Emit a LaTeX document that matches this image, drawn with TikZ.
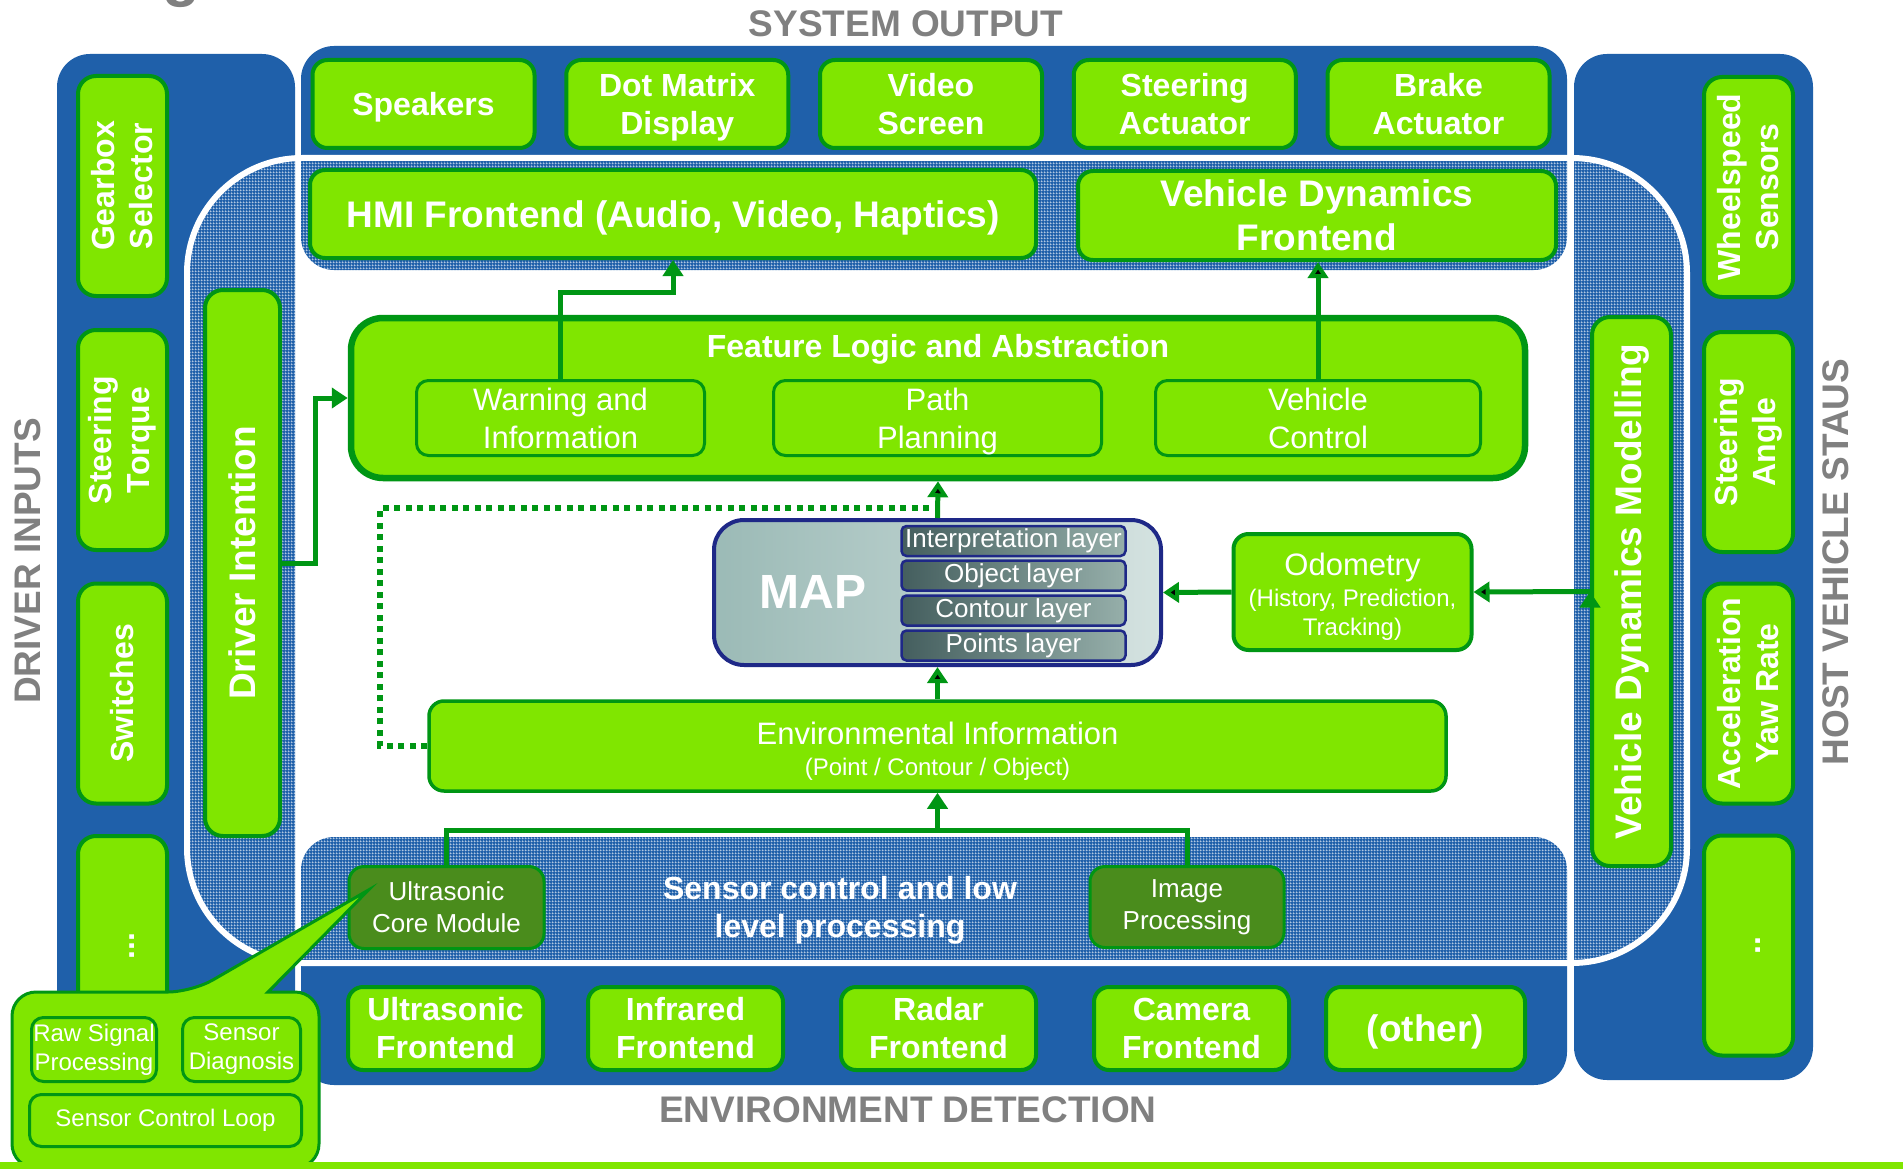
\documentclass[tikz,border=0pt]{standalone}
\usepackage{fontspec}
\setmainfont{Liberation Sans}
\usetikzlibrary{matrix,arrows.meta,patterns}

\definecolor{panelblue}{RGB}{31,96,170}
\definecolor{boxlime}{RGB}{128,230,0}
\definecolor{leafgreen}{RGB}{0,150,20}
\definecolor{mossgreen}{RGB}{74,140,28}
\definecolor{capgray}{RGB}{128,128,128}
\definecolor{mapnavy}{RGB}{30,40,135}
\definecolor{mapdark}{RGB}{155,186,182}
\definecolor{maplight}{RGB}{212,226,224}
\definecolor{layerdark}{RGB}{68,94,94}
\definecolor{layerlight}{RGB}{150,175,170}

% fine white mesh laid over the blue frame
\pgfdeclarepatternformonly{mesh}{\pgfqpoint{0pt}{0pt}}{\pgfqpoint{3pt}{3pt}}{\pgfqpoint{3pt}{3pt}}{
  \pgfpathrectangle{\pgfqpoint{0pt}{0pt}}{\pgfqpoint{3pt}{0.45pt}}
  \pgfpathrectangle{\pgfqpoint{0pt}{0pt}}{\pgfqpoint{0.45pt}{3pt}}
  \pgfusepath{fill}
}

\tikzset{
  panel/.style={fill=panelblue, rounded corners=33pt},
  blk/.style={draw=leafgreen, fill=boxlime, line width=4pt, rounded corners=15pt,
    text=white, align=center, inner sep=0pt},
  sub/.style={blk, line width=3pt, rounded corners=12pt},
  core/.style={blk, fill=mossgreen, line width=3pt, font=\fontsize{26}{32}\selectfont},
  layer/.style={draw=mapnavy, line width=2.5pt, rounded corners=5pt, left color=layerdark,
    right color=layerlight, text=white, inner sep=0pt, minimum width=224pt,
    minimum height=30pt, font=\fontsize{26}{26}\selectfont},
  bigtxt/.style={font=\bfseries\fontsize{37}{44}\selectfont},
  midtxt/.style={font=\bfseries\fontsize{32}{38}\selectfont},
  plaintxt/.style={font=\fontsize{31}{38}\selectfont},
  smalltxt/.style={font=\fontsize{24}{29}\selectfont},
  outbox/.style={blk, midtxt, text depth=0pt, minimum width=222pt, minimum height=88pt},
  sidebox/.style={blk, midtxt, rotate=90, rounded corners=18pt, minimum width=220pt, minimum height=89pt},
  dots/.style={text height=23pt, text depth=0pt},
  inbox/.style={blk, midtxt, minimum width=195pt, minimum height=83pt},
  heading/.style={text=capgray, font=\bfseries\fontsize{37}{37}\selectfont, inner sep=0pt},
  flow/.style={draw=leafgreen, line width=5pt, -{Triangle[length=16pt,width=20pt]}},
  link/.style={draw=leafgreen, line width=5pt},
  dotlink/.style={draw=leafgreen, line width=6pt, dash pattern=on 6pt off 5.5pt},
  callout/.style={draw=leafgreen, fill=boxlime, line width=3pt},
}

\begin{document}
\begin{tikzpicture}[x=1pt,y=-1pt]
\useasboundingbox (0,0) rectangle (1903,1169);
\fill[white] (0,0) rectangle (1903,1169);

% blue frame: inputs, outputs, host status, detection
\fill[panel] (57,54) rectangle (295,1080);
\fill[panel] (301,46) rectangle (1567,270);
\fill[panel] (1574,54) rectangle (1813,1080);
\fill[panel] (301,837) rectangle (1567,1085);

% meshed core area
\path[rounded corners=115pt, pattern=mesh, pattern color=white] (187,158) rectangle (1687,963);
\draw[white, line width=6pt, rounded corners=115pt] (187,158) rectangle (1687,963);

\node[heading, anchor=base, font=\bfseries\fontsize{62}{62}\selectfont] (tail) at (181,-5) {g};
\node[heading] (sysout) at (906,24) {SYSTEM OUTPUT};
\node[heading] (envdet) at (908,1110) {ENVIRONMENT DETECTION};
\node[heading, rotate=90] (drvin) at (27.5,561) {DRIVER INPUTS};
\node[heading, rotate=90] (hoststat) at (1836,562) {HOST VEHICLE STAUS};

\matrix (out) [column sep=27.75pt, inner sep=0pt] at (931,104) {
  \node[outbox] (speakers) {Speakers}; &
  \node[outbox] (dotmatrix) {Dot Matrix\\Display}; &
  \node[outbox] (video) {Video\\Screen}; &
  \node[outbox] (steeract) {Steering\\Actuator}; &
  \node[outbox] (brakeact) {Brake\\Actuator}; \\
};

\node[sidebox] (gearbox) at (122.5,186) {Gearbox\\Selector};
\node[sidebox] (torque) at (122.5,440) {Steering\\Torque};
\node[sidebox] (switches) at (122.5,693.5) {Switches};
\node[sidebox, dots] (moreinp) at (122.5,946) {...};

\node[sidebox] (wheelspd) at (1748.5,187) {Wheelspeed\\Sensors};
\node[sidebox] (steerang) at (1748.5,442) {Steering\\Angle};
\node[sidebox] (yawrate) at (1748.5,693.5) {Acceleration\\Yaw Rate};
\node[sidebox, dots] (morehost) at (1748.5,945.5) {..};

\node[inbox] (usfront) at (445.5,1028.5) {Ultrasonic\\Frontend};
\node[inbox] (irfront) at (685.5,1028.5) {Infrared\\Frontend};
\node[inbox] (radfront) at (938.5,1028.5) {Radar\\Frontend};
\node[inbox] (camfront) at (1191.5,1028.5) {Camera\\Frontend};
\node[inbox, minimum width=199pt, bigtxt, text depth=0pt] (other) at (1425.5,1028.5) {(other)};

\node[blk, bigtxt, text depth=0pt, minimum width=726pt, minimum height=88pt] (hmi) at (673,214) {HMI Frontend (Audio, Video, Haptics)};
\node[blk, bigtxt, minimum width=478pt, minimum height=89pt] (vdf) at (1317,215.5) {Vehicle Dynamics\\Frontend};
\node[blk, bigtxt, rotate=90, rounded corners=18pt, minimum width=546pt, minimum height=75pt] (drv) at (242.5,563) {Driver Intention};
\node[blk, bigtxt, rotate=90, rounded corners=18pt, minimum width=549pt, minimum height=79pt] (vdm) at (1631.5,591.5) {Vehicle Dynamics Modelling};

\node[blk, line width=6.5pt, rounded corners=32pt, minimum width=1174pt, minimum height=160pt] (feat) at (938,398) {};
\node[midtxt, text=white, anchor=base, inner sep=0pt] (feattitle) at (938,357) {Feature Logic and Abstraction};
\node[sub, plaintxt, minimum width=288pt, minimum height=75pt] (warn) at (560.5,418) {Warning and\\Information};
\node[sub, plaintxt, text depth=0pt, minimum width=328pt, minimum height=75pt] (path) at (937.5,418) {Path\\Planning};
\node[sub, plaintxt, minimum width=325pt, minimum height=75pt] (vctl) at (1318,418) {Vehicle\\Control};

\node[draw=mapnavy, line width=4pt, rounded corners=30pt, left color=mapdark, right color=maplight,
  minimum width=447pt, minimum height=145pt] (map) at (937.5,592.5) {};
\node[text=white, font=\bfseries\fontsize{48}{48}\selectfont] (maplabel) at (813,592) {MAP};
\node[layer] (interp) at (1013.5,541) {Interpretation layer};
\node[layer] (objlay) at (1013.5,575.5) {Object layer};
\node[layer] (contlay) at (1013.5,610.5) {Contour layer};
\node[layer] (ptslay) at (1013.5,645.5) {Points layer};

\node[blk, smalltxt, text height=86pt, text depth=0pt, minimum width=238pt, minimum height=116pt] (odo) at (1352.5,592)
  {{\fontsize{31}{31}\selectfont Odometry}\\[2pt](History, Prediction,\\Tracking)};
\node[blk, smalltxt, text height=58pt, text depth=0pt, line width=3.5pt, minimum width=1017pt, minimum height=90pt] (env) at (937.5,746)
  {{\fontsize{31}{31}\selectfont Environmental Information}\\[2pt](Point / Contour / Object)};

\node[core, minimum width=195pt, minimum height=82pt] (ucore) at (446.5,907.5) {Ultrasonic\\Core Module};
\node[core, minimum width=194pt, minimum height=81pt] (imgproc) at (1187,907) {Image\\Processing};
\node[midtxt, text=white, align=center, text depth=0pt] (sensortxt) at (840,907) {Sensor control and low\\level processing};

\draw[flow] (warn.north) -- ++(0,-87) -| (hmi.south);
\draw[flow] (drv.south) -- ++(33,0) |- (feat.west);
\path[flow]
  (vctl.north) edge (vctl.north |- vdf.south)
  (map.north) edge (feat.south)
  (env.north) edge (map.south)
  (odo.west) edge (map.east)
  (vdm.north) edge (odo.east);
\draw[link] (ucore.north) -- ++(0,-35) coordinate (join) -| (imgproc.north);
\draw[flow] (join -| env.south) -- (env.south);
\coordinate (tap) at ([yshift=10pt]map.north);
\draw[dotlink] (env.west) -- ++(-47,0) |- (tap);

% sensor module detail
\coordinate (calltip) at ([xshift=-78pt,yshift=17.5pt]ucore.center);
\draw[callout] (12,1080) [rounded corners=24pt] -- (12,992) -- (192,992) [sharp corners] -- (calltip)
  -- (268,992) [rounded corners=24pt] -- (319,992) -- (319,1168) -- (12,1168) -- cycle;
\node[sub, smalltxt, minimum width=125pt, minimum height=64pt] (rawsig) at (94,1049.5) {Raw Signal\\Processing};
\node[sub, smalltxt, minimum width=118pt, minimum height=64pt] (diag) at (241.5,1049.5) {Sensor\\Diagnosis};
\node[sub, smalltxt, minimum width=272pt, minimum height=52pt] (ctlloop) at (165.5,1120.5) {Sensor Control Loop};

\fill[boxlime] (0,1162) rectangle (1903,1169);
\end{tikzpicture}
\end{document}
